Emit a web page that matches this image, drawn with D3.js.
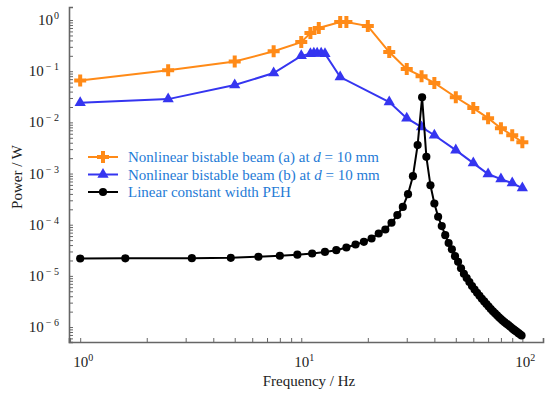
<!DOCTYPE html>
<html>
<head>
<meta charset="utf-8">
<script src="https://cdn.jsdelivr.net/npm/d3@7"></script>
<style>
  body { margin: 0; background: #fff; }
</style>
</head>
<body>
<div id="chart"></div>
<script>
// series (a): nonlinear bistable beam (a)
var freqA = [1, 2.5, 5, 7.5, 10, 11, 12, 15, 16, 20, 25, 30, 35, 40, 50, 60, 70, 80, 90, 100];
var powerA = [0.066, 0.105, 0.155, 0.245, 0.371, 0.557, 0.698, 0.914, 0.914, 0.763, 0.237, 0.110, 0.080, 0.059, 0.031, 0.019, 0.0121, 0.0077, 0.0056, 0.0041];

// series (b): nonlinear bistable beam (b)
var freqB = [1, 2.5, 5, 7.5, 10, 11, 11.4, 11.8, 12.3, 12.8, 15, 25, 30, 35, 40, 50, 60, 70, 80, 90, 100];
var powerB = [0.0241, 0.0285, 0.0536, 0.092, 0.20, 0.22, 0.225, 0.225, 0.225, 0.22, 0.0768, 0.0249, 0.0121, 0.0081, 0.0056, 0.00287, 0.0016, 0.00098, 0.00078, 0.00065, 0.00052];

// series (c): linear constant width PEH
var freqC = [1, 1.6, 3.2, 4.8, 6.4, 8, 9.6, 11.2, 12.8, 14.4, 16, 17.6, 19.2, 20.8, 22.4, 24, 25.6, 27.2, 28.8, 30.4,
  32, 33.6, 35.2, 36.8, 38.4, 40, 41.6, 43.2, 44.8, 46.4, 48, 49.6, 51.2, 52.8, 54.4, 56, 57.6, 59.2, 60.8, 62.4,
  64, 65.6, 67.2, 68.8, 70.4, 72, 73.6, 75.2, 76.8, 78.4, 80, 81.6, 83.2, 84.8, 86.4, 88, 89.6, 91.2, 92.8, 94.4,
  96, 97.6, 99.2];
var powerC = [2.19e-5, 2.2e-5, 2.22e-5, 2.25e-5, 2.37e-5, 2.48e-5, 2.6e-5, 2.74e-5, 2.94e-5, 3.18e-5, 3.59e-5, 4.11e-5, 4.62e-5, 5.38e-5, 6.75e-5, 8.07e-5, 1.09e-4, 1.54e-4, 2.23e-4, 3.96e-4,
  8.9e-4, 3.6e-3, 0.031, 2.12e-3, 5.9e-4, 2.6e-4, 1.43e-4, 9.4e-5, 6.25e-5, 4.4e-5, 3.3e-5, 2.43e-5, 1.88e-5, 1.41e-5, 1.1e-5, 9.1e-6, 7.57e-6, 6.35e-6, 5.4e-6, 4.68e-6,
  4.07e-6, 3.58e-6, 3.17e-6, 2.82e-6, 2.51e-6, 2.25e-6, 2.04e-6, 1.86e-6, 1.70e-6, 1.55e-6, 1.43e-6, 1.33e-6, 1.24e-6, 1.16e-6, 1.09e-6, 1.02e-6, 9.6e-7, 9.0e-7, 8.5e-7, 8.05e-7,
  7.6e-7, 7.2e-7, 6.85e-7];

var xMajor = [0, 1, 2];              // exponents for 10^n on x
var yMajor = [0, -1, -2, -3, -4, -5, -6];
var legendLabels = ["Nonlinear bistable beam (a) at ", "Nonlinear bistable beam (b) at ", "Linear constant width PEH"];

var svgWidth = 550, svgHeight = 396;

var svg = d3.select("#chart").append("svg")
  .attr("width", svgWidth)
  .attr("height", svgHeight)
  .attr("font-family", "'Liberation Serif', 'Times New Roman', 'DejaVu Serif', serif");

var x = d3.scaleLog().domain([0.89, 124]).range([69, 543]);
var y = d3.scaleLog().domain([5.1e-7, 1.8]).range([342, 7]);

var axisColor = "#666";

// minor ticks
function minorTicks(scale) {
  var d = scale.domain(), out = [];
  for (var e = Math.floor(Math.log10(d[0])); e <= Math.ceil(Math.log10(d[1])); e++) {
    for (var k = 1; k < 10; k++) {
      var v = k * Math.pow(10, e);
      if (v >= d[0] && v <= d[1]) out.push(v);
    }
  }
  return out;
}

var gx = svg.append("g").attr("transform", "translate(0,342)")
  .call(d3.axisBottom(x).tickValues(minorTicks(x)).tickSize(-4).tickFormat(""));
var gy = svg.append("g").attr("transform", "translate(69,0)")
  .call(d3.axisLeft(y).tickValues(minorTicks(y)).tickSize(-4).tickFormat(""));

[gx, gy].forEach(function(g) {
  g.select(".domain").attr("stroke", axisColor).attr("stroke-width", 1.6);
  g.selectAll(".tick line").attr("stroke", axisColor).attr("stroke-width", 1);
});

// major tick labels
yMajor.forEach(function(e) {
  var t = svg.append("text")
    .attr("x", 59).attr("y", y(Math.pow(10, e)) + 5)
    .attr("text-anchor", "end")
    .attr("font-size", 15).attr("fill", "#222");
  t.append("tspan").text("10");
  t.append("tspan").attr("dx", e < 0 ? 2 : 1).attr("dy", -6).attr("font-size", 10)
    .text(e < 0 ? "\u2212 " + (-e) : e);
});

xMajor.forEach(function(e) {
  var t = svg.append("text")
    .attr("x", x(Math.pow(10, e)) - 7).attr("y", 367)
    .attr("font-size", 15).attr("fill", "#222");
  t.append("tspan").text("10");
  t.append("tspan").attr("dy", -6).attr("font-size", 10).text(e);
});

svg.append("text")
  .attr("x", 309).attr("y", 386)
  .attr("text-anchor", "middle").attr("font-size", 15).attr("fill", "#222")
  .text("Frequency / Hz");

svg.append("text")
  .attr("transform", "translate(22,177) rotate(-90)")
  .attr("text-anchor", "middle").attr("font-size", 15).attr("fill", "#222")
  .text("Power / W");

// series
var series = [
  {f: freqA, p: powerA, color: "#ff8a17", sym: d3.symbolCross, size: 80},
  {f: freqB, p: powerB, color: "#3535f0", sym: d3.symbolTriangle, size: 55},
  {f: freqC, p: powerC, color: "#000000", sym: d3.symbolCircle, size: 52}
];

var line = d3.line().x(d => x(d[0])).y(d => y(d[1]));

series.forEach(function(s) {
  var pts = s.f.map((f, i) => [f, s.p[i]]);
  svg.append("path").datum(pts)
    .attr("d", line)
    .attr("fill", "none")
    .attr("stroke", s.color)
    .attr("stroke-width", 2);
  svg.selectAll(null).data(pts).enter()
    .append("path")
    .attr("transform", d => `translate(${x(d[0])},${y(d[1])})`)
    .attr("d", d3.symbol().type(s.sym).size(s.size))
    .attr("fill", s.color);
});

// legend
var legendY = [157, 174.5, 192];
series.forEach(function(s, i) {
  var g = svg.append("g").attr("transform", `translate(0,${legendY[i]})`);
  g.append("line").attr("x1", 88).attr("x2", 118).attr("y1", 0).attr("y2", 0)
    .attr("stroke", s.color).attr("stroke-width", 2);
  g.append("path").attr("transform", "translate(103,0)")
    .attr("d", d3.symbol().type(s.sym).size(s.size))
    .attr("fill", s.color);
  var t = g.append("text").attr("x", 128).attr("y", 5)
    .attr("font-size", 15).attr("fill", "#1f7bd6");
  t.append("tspan").text(legendLabels[i]);
  if (i < 2) {
    t.append("tspan").attr("font-style", "italic").text("d");
    t.append("tspan").text(" = 10 mm");
  }
});
</script>
</body>
</html>
